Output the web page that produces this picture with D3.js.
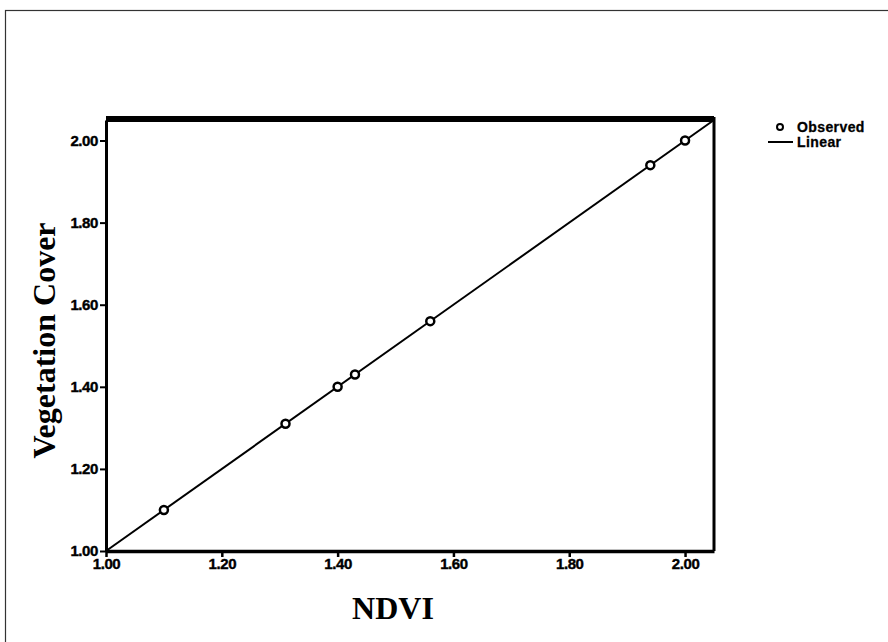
<!DOCTYPE html>
<html>
<head>
<meta charset="utf-8">
<script src="https://cdn.jsdelivr.net/npm/d3@7"></script>
<style>
  body { margin: 0; background: #fff; }
  .tick text { font-family: "Liberation Sans", Arial, sans-serif; font-weight: bold; font-size: 15px; letter-spacing: -0.4px; stroke: #000; stroke-width: 0.4px; }
  .axis-title { font-family: "Liberation Serif", "Times New Roman", serif; font-weight: bold; font-size: 32px; }
  .legend text { font-family: "Liberation Sans", Arial, sans-serif; font-weight: bold; font-size: 14px; letter-spacing: 0.4px; stroke: #000; stroke-width: 0.3px; }
</style>
</head>
<body>
<svg id="chart"></svg>
<script>
// observed points (NDVI vs vegetation cover)
const ndvi = [1.10, 1.31, 1.40, 1.43, 1.56, 1.94, 2.00];
const vegCover = [1.10, 1.31, 1.40, 1.43, 1.56, 1.94, 2.00];
// linear fit end points
const fitX = [1.00, 2.05];
const fitY = [1.00, 2.05];
const tickValues = [1.00, 1.20, 1.40, 1.60, 1.80, 2.00];
const legendLabels = ["Observed", "Linear"];

const W = 888, H = 642;
const margin = {top: 120, right: 174, bottom: 91, left: 106},
  width = W - margin.left - margin.right,
  height = H - margin.top - margin.bottom;

const root = d3.select("#chart").attr("width", W).attr("height", H);

// outer frame
root.append("rect")
  .attr("x", 5.5).attr("y", 10.5)
  .attr("width", W).attr("height", H)
  .attr("fill", "none").attr("stroke", "#333").attr("stroke-width", 1.2);

const svg = root.append("g")
  .attr("transform", `translate(${margin.left},${margin.top})`);

const x = d3.scaleLinear().domain([1, 2.05]).range([0, width]);
const y = d3.scaleLinear().domain([1, 2.05]).range([height, 0]);

// frame of the plot
svg.append("line") // top
  .attr("x1", 0).attr("x2", width).attr("y1", -1).attr("y2", -1)
  .attr("stroke", "#000").attr("stroke-width", 6);
svg.append("line") // right
  .attr("x1", width).attr("x2", width).attr("y1", -3).attr("y2", height)
  .attr("stroke", "#000").attr("stroke-width", 3);

const xAxis = svg.append("g")
  .attr("transform", `translate(0,${height})`)
  .call(d3.axisBottom(x).tickValues(tickValues).tickFormat(d3.format(".2f")).tickSize(6).tickSizeOuter(0));
xAxis.select(".domain").attr("stroke-width", 3.5);
xAxis.selectAll(".tick line").attr("stroke-width", 2.5);
xAxis.selectAll(".tick text").attr("y", 13).attr("dy", "0.3em");

const yAxis = svg.append("g")
  .call(d3.axisLeft(y).tickValues(tickValues).tickFormat(d3.format(".2f")).tickSize(6).tickSizeOuter(0));
yAxis.select(".domain").attr("stroke-width", 3);
yAxis.selectAll(".tick line").attr("stroke-width", 2);
yAxis.selectAll(".tick text").attr("x", -8);

// fitted line
const line = d3.line().x(d => x(d[0])).y(d => y(d[1]));
svg.append("path")
  .datum(d3.zip(fitX, fitY))
  .attr("d", line)
  .attr("fill", "none").attr("stroke", "#000").attr("stroke-width", 2);

// observed points
svg.selectAll("circle.obs")
  .data(d3.zip(ndvi, vegCover))
  .join("circle")
    .attr("class", "obs")
    .attr("cx", d => x(d[0]))
    .attr("cy", d => y(d[1]))
    .attr("r", 4)
    .attr("fill", "#fff")
    .attr("stroke", "#000")
    .attr("stroke-width", 2.5);

// axis titles
svg.append("text")
  .attr("class", "axis-title")
  .attr("x", 287).attr("y", height + 68)
  .attr("text-anchor", "middle")
  .text("NDVI");

svg.append("text")
  .attr("class", "axis-title")
  .attr("transform", `translate(-51,${height / 2 + 5}) rotate(-90)`)
  .attr("text-anchor", "middle")
  .text("Vegetation Cover");

// legend
const legend = root.append("g").attr("class", "legend").attr("transform", "translate(768,127)");
legend.append("circle").attr("cx", 12).attr("cy", 0).attr("r", 3)
  .attr("fill", "#fff").attr("stroke", "#000").attr("stroke-width", 2);
legend.append("line").attr("x1", 0).attr("x2", 25).attr("y1", 15).attr("y2", 15)
  .attr("stroke", "#000").attr("stroke-width", 2);
legend.selectAll("text")
  .data(legendLabels)
  .join("text")
    .attr("x", 29)
    .attr("y", (d, i) => i * 15)
    .attr("dy", "0.35em")
    .text(d => d);
</script>
</body>
</html>
